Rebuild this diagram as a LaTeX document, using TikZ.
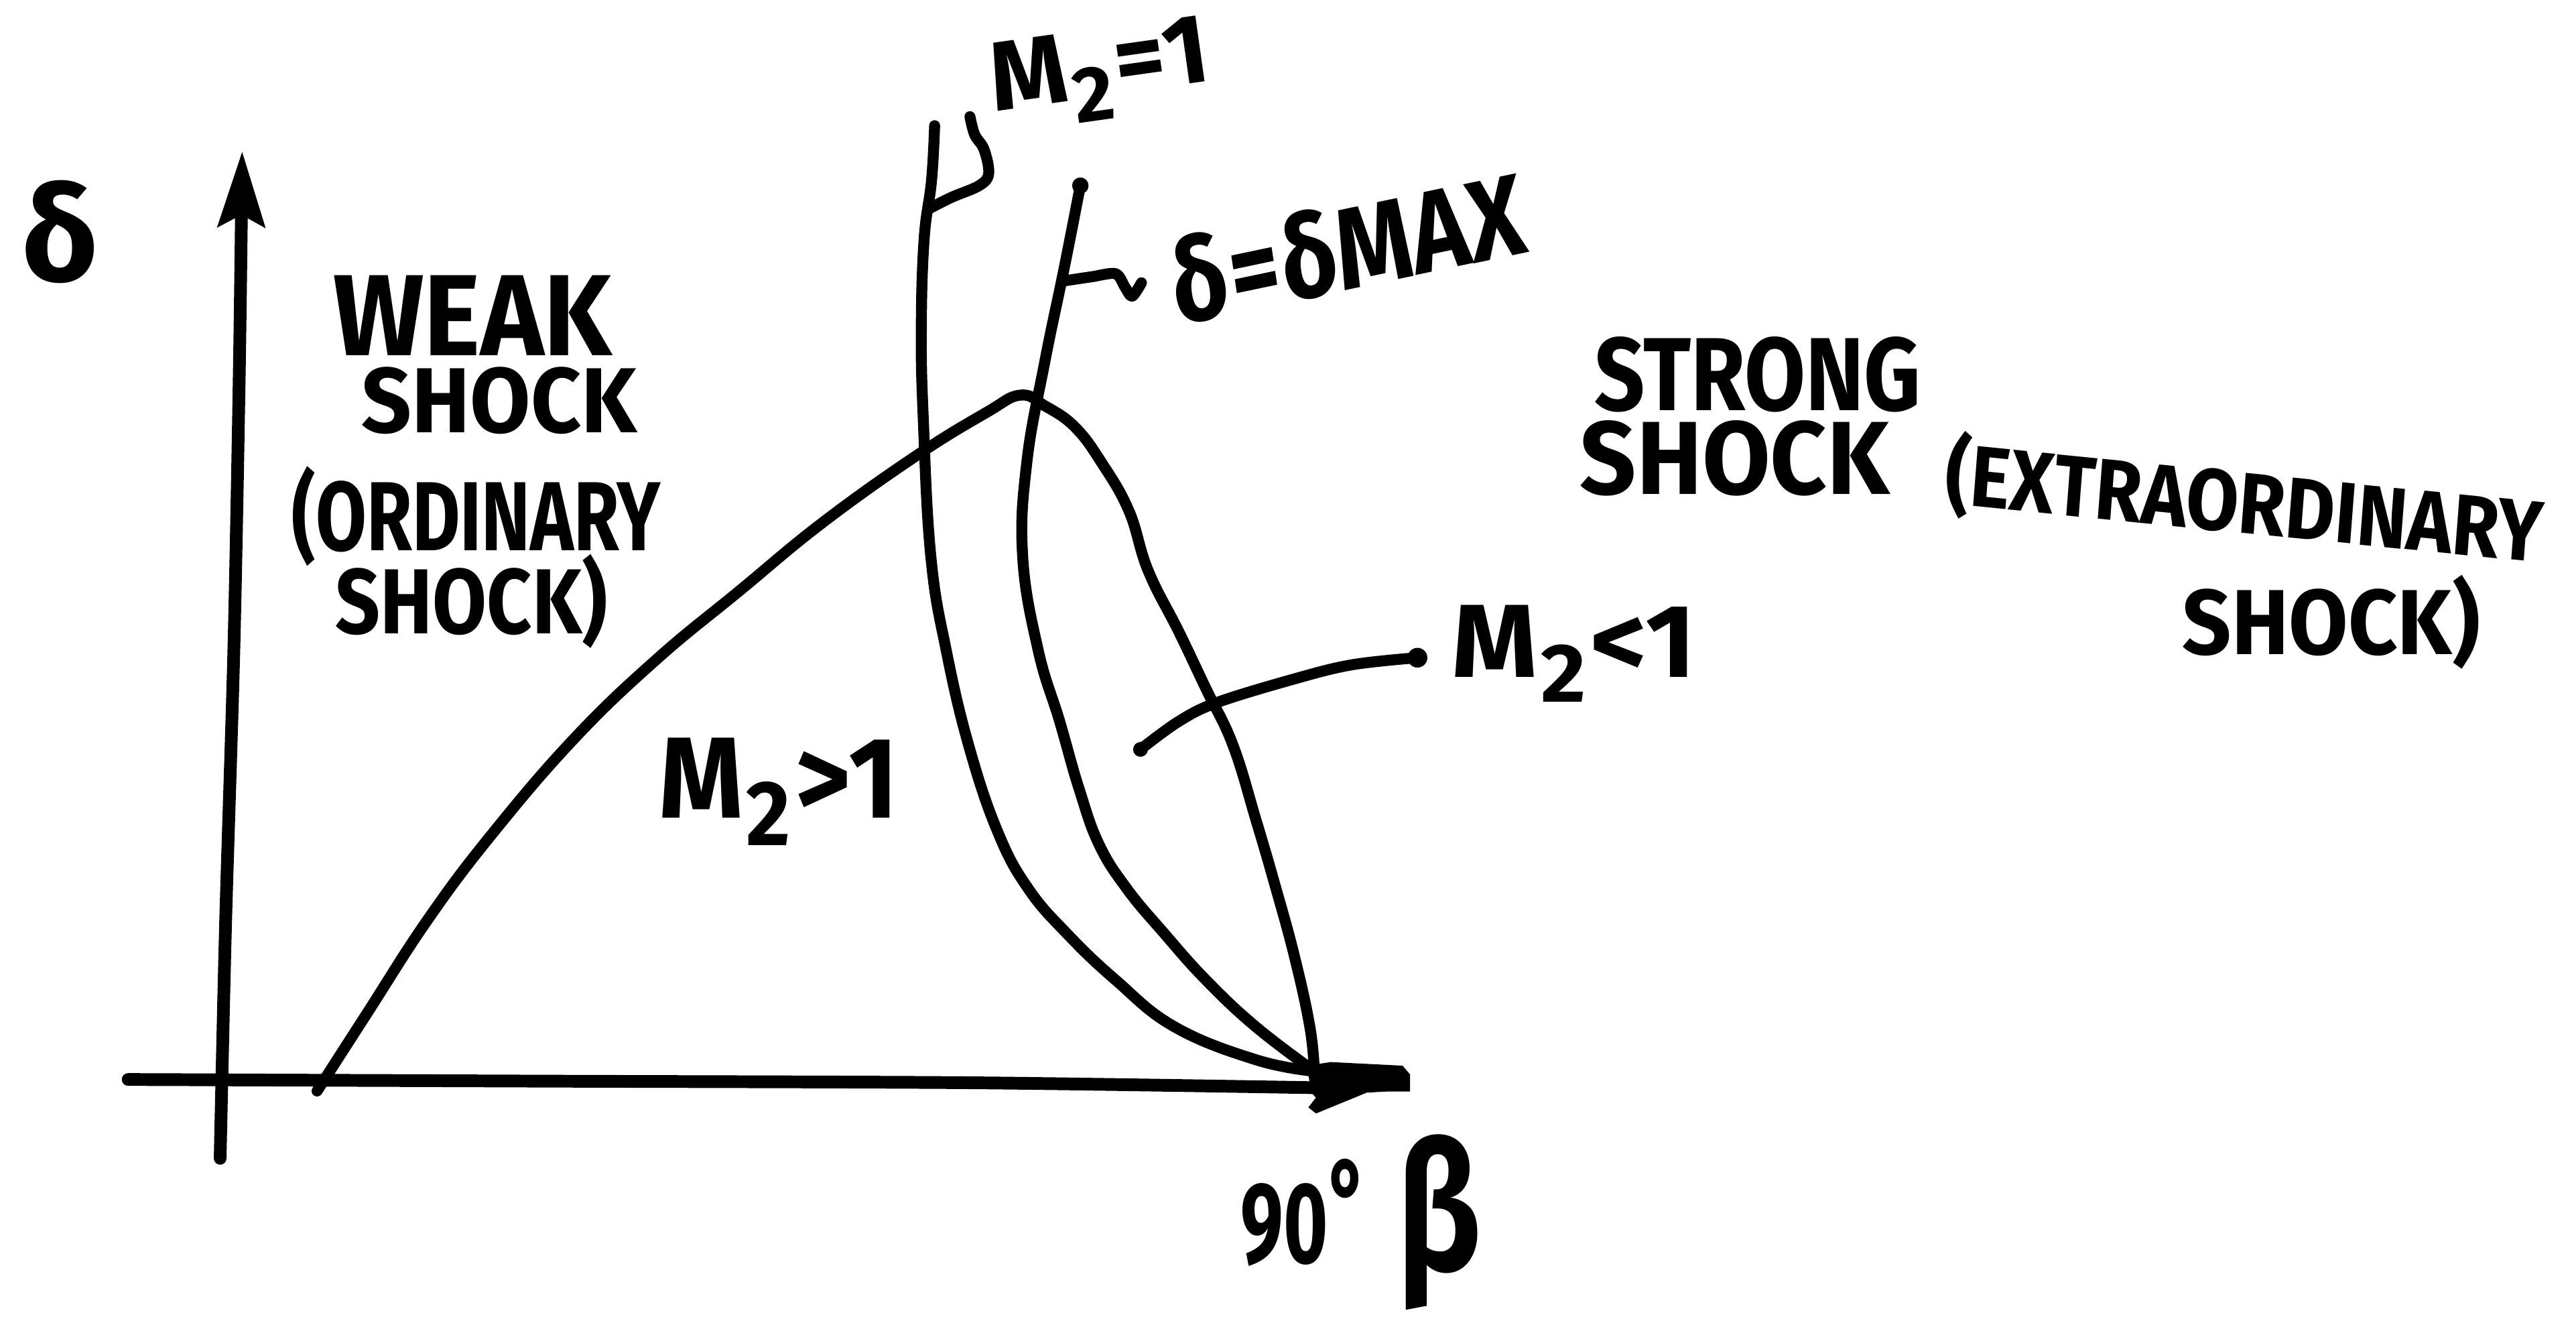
\documentclass[tikz,border=0pt]{standalone}
\usepackage{fontspec}
\setmainfont{Fira Sans}
\usepackage{graphicx}
\usetikzlibrary{arrows.meta}
\tikzset{
  ink/.style={line width=1.9pt, line cap=round, line join=round},
  axisline/.style={line width=2.2pt, line cap=round, line join=round},
  lbl/.style={inner sep=0pt, anchor=center, text=black},
}
\newcommand\sbt[1]{\kern0.5pt\raisebox{-0.45ex}{\scalebox{0.8}{#1}}\kern0.8pt}
\newcommand\fsz[1]{\fontsize{#1}{#1}\selectfont\bfseries}
\begin{document}
\begin{tikzpicture}[x=0.1mm,y=-0.1mm]
\useasboundingbox (0,0) rectangle (1568,805);
\fill[white] (0,0) rectangle (1568,805);

% ---------- axes ----------
\coordinate (ybot) at (134,705);
\coordinate (ytop) at (147.4,92);
\coordinate (xleft) at (78,657);
\coordinate (xright) at (800,662);
\draw[axisline,-{Stealth[length=13pt,width=8pt,inset=2pt]}]
  plot[smooth,tension=0.5] coordinates {(ybot) (137.3,562.5) (142.4,393.4) (145.7,224.4) (ytop)};
\draw[axisline] plot[smooth,tension=0.5] coordinates {(xleft) (330,658) (591.5,659) (xright)};
\fill (795.5,648.6) -- (810,646.4) -- (853.7,648.6) -- (858.3,653.9) -- (858.3,664.3)
  -- (844.6,664.3) -- (831.9,665) -- (821,669.5) -- (810,674) -- (801,677.7)
  -- (796.4,674) -- (801,668) -- (798.2,665) -- cycle;

% ---------- delta-beta curve ----------
\coordinate (peak) at (621,240.5);
\coordinate (apex) at (800,652);
\draw[ink] plot[smooth,tension=0.7] coordinates {
  (193,664) (223.5,616.6) (260.7,559.2) (300,507) (350,449) (400,401)
  (450.1,359.6) (500.8,318) (558.3,277) (600.5,251) (peak) (636,247)
  (654.4,260) (670.8,282) (687.2,311) (698.9,347.4) (717.6,384.6) (734,419)
  (750.4,453.3) (764.5,499) (776.2,539.1) (787.9,582) (797.3,625) (apex)};

% ---------- sonic line M2=1 ----------
\draw[ink] plot[smooth,tension=0.7] coordinates {
  (568.9,76.5) (567,110) (562.5,145.7) (560.8,200.3) (562,255) (566.6,338.8)
  (576,396) (590,455) (607.6,507) (626,541) (649.7,568.5) (679,596.4)
  (715,625) (764.5,645) (apex)};
% hook to label
\draw[ink] plot[smooth,tension=0.6] coordinates {
  (564.6,127.5) (579,120.2) (596.1,112.9) (601.8,105.6) (599,91) (593.3,82) (590.4,71)};

% ---------- delta = delta max line ----------
\coordinate (dmtop) at (657.6,113);
\draw[ink] plot[smooth,tension=0.7] coordinates {
  (dmtop) (647.6,164) (636,220) (625,281.6) (622.5,338.8)
  (632,396) (645,439) (656.8,480) (669,514) (686,541) (708.3,567.7)
  (734,596.4) (764.5,625) (apex)};
\fill (dmtop) circle (5);
% squiggle leader
\draw[ink] plot[smooth,tension=0.5] coordinates {
  (646.2,171.2) (664.8,168.4) (679.1,166.6) (684.8,174.8) (689.1,180.3) (694.8,172.1)};

% ---------- M2<1 leader ----------
\coordinate (lstart) at (694.2,456.1);
\coordinate (lend) at (862.8,400.3);
\draw[ink] plot[smooth,tension=0.6] coordinates {
  (lstart) (717.6,439) (741,427.5) (787.9,413.2) (823,404.6) (lend)};
\fill (lstart) circle (4.5);
\fill (lend) circle (6);

% ---------- labels ----------
\node[lbl,font=\fsz{23}] (dlab) at (36.5,141) {δ};
\node[lbl,font=\fsz{20},xscale=0.93] (weak) at (287.6,192) {WEAK};
\node[lbl,font=\fsz{16},xscale=0.95] (wshock) at (304,244) {SHOCK};
\node[lbl,font=\fsz{17},xscale=0.75] (ordin) at (290,314) {(ORDINARY};
\node[lbl,font=\fsz{16},xscale=0.85] (wshock2) at (287,366) {SHOCK)};

\node[lbl,font=\fsz{18},xscale=0.85] (strong) at (1070,228) {STRONG};
\node[lbl,font=\fsz{18},xscale=0.95] (sshock) at (1056,279) {SHOCK};
\node[lbl,font=\fsz{15},xscale=0.88,rotate=-5] (extra) at (1366,306) {(EXTRAORDINARY};
\node[lbl,font=\fsz{16},xscale=0.93] (sshock2) at (1419,378.7) {SHOCK)};

\node[lbl,font=\fsz{17},rotate=8] (msonic) at (670,45) {M\sbt{2}=1};
\node[lbl,font=\fsz{20},xscale=0.84,rotate=10] (dmax) at (820,150) {δ\kern0.5pt=\kern0.5ptδMAX};
\node[lbl,font=\fsz{18},xscale=1.05] (msub) at (958,398) {M\sbt{2}<1};
\node[lbl,font=\fsz{20},xscale=0.93] (msup) at (474,482) {M\sbt{2}>1};
\node[lbl,font=\fsz{20},xscale=0.66] (ninety) at (794,738) {90\raisebox{0.35ex}{°}};
\node[lbl,font=\fsz{31},xscale=0.77] (beta) at (876,744) {β};
\end{tikzpicture}
\end{document}
